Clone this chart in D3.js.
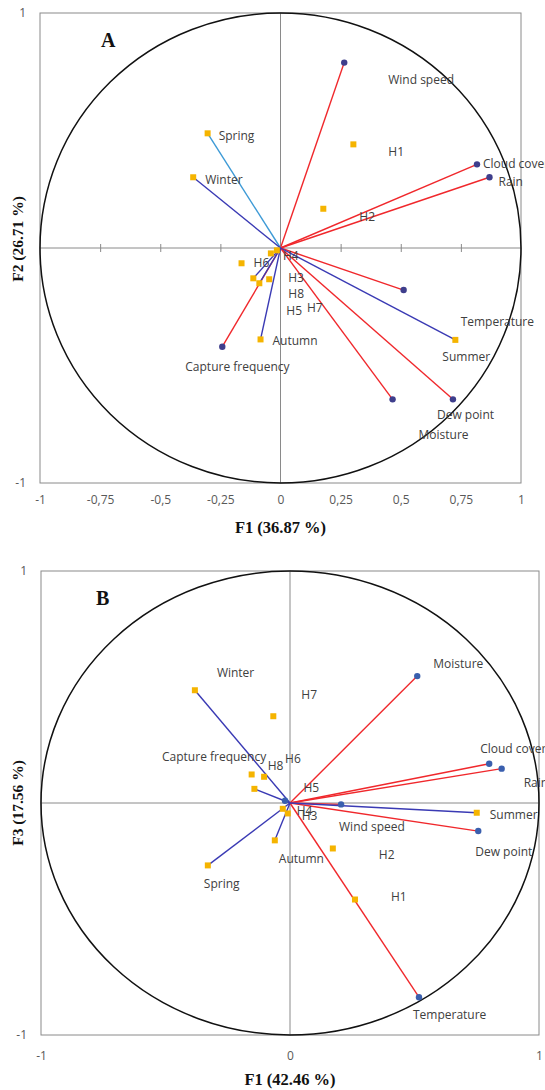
<!DOCTYPE html>
<html>
<head>
<meta charset="utf-8">
<script src="https://cdn.jsdelivr.net/npm/d3@7"></script>
<style>
  body { margin: 0; background: #fff; }
  svg { display: block; }
  .lbl { font-family: "Open Sans", sans-serif; font-size: 12px; fill: #404040; }
  .tick text { font-family: "Open Sans", sans-serif; font-size: 12px; fill: #595959; }
  .ttl { font-family: "Liberation Serif", serif; font-weight: bold; fill: #111; }
</style>
</head>
<body>
<svg id="chart" width="545" height="1090"></svg>
<script>
// DATA -- variables (red vectors, dots)
var varNames = ["Wind speed", "Cloud cover", "Rain", "Temperature", "Dew point", "Moisture", "Capture frequency"];
var varF1A = [0.265, 0.817, 0.869, 0.512, 0.717, 0.466, -0.242];
var varF2A = [0.789, 0.356, 0.301, -0.179, -0.644, -0.644, -0.420];
var varF1B = [0.205, 0.800, 0.850, 0.518, 0.756, 0.511, -0.020];
var varF3B = [-0.006, 0.169, 0.148, -0.837, -0.121, 0.547, 0.010];

// observations / seasons (yellow squares)
var obsNames = ["Spring", "Winter", "Summer", "Autumn", "H1", "H2", "H3", "H4", "H5", "H6", "H7", "H8"];
var obsF1A = [-0.303, -0.363, 0.727, -0.083, 0.303, 0.178, -0.047, -0.040, -0.088, -0.162, -0.015, -0.113];
var obsF2A = [0.488, 0.301, -0.391, -0.389, 0.441, 0.167, -0.133, -0.023, -0.150, -0.065, -0.010, -0.129];
var obsF1B = [-0.330, -0.382, 0.750, -0.061, 0.261, 0.172, -0.009, -0.029, -0.143, -0.104, -0.067, -0.154];
var obsF3B = [-0.269, 0.486, -0.042, -0.161, -0.416, -0.196, -0.045, -0.025, 0.061, 0.113, 0.374, 0.123];

// squares that are joined to the origin
var obsLinesA = ["Spring", "Winter", "Summer", "Autumn", "H5", "H8"];
var obsLinesB = ["Spring", "Winter", "Summer", "Autumn", "H5"];

var xTicksA = [-1, -0.75, -0.5, -0.25, 0, 0.25, 0.5, 0.75, 1];
var xTicksB = [-1, 0, 1];
var yTicks = [-1, 1];

// label offsets in pixels from the mark (text start, vertical middle)
var offA = {
  "Wind speed": [44, 17], "Cloud cover": [6, -1], "Rain": [9, 5], "Temperature": [57, 32],
  "Dew point": [-16, 15], "Moisture": [26, 35], "Capture frequency": [-37, 20],
  "Spring": [11, 2], "Winter": [12, 3], "Summer": [-13, 17], "Autumn": [12, 1],
  "H1": [35, 7], "H2": [36, 8], "H3": [19, -1], "H4": [12, 2], "H5": [27, 28],
  "H6": [12, 0], "H7": [30, 57], "H8": [35, 15]
};
var offB = {
  "Wind speed": [-2, 22], "Cloud cover": [-9, -15], "Rain": [22, 14], "Temperature": [-6, 18],
  "Dew point": [-3, 21], "Moisture": [16, -12], "Capture frequency": [-123, -44],
  "Spring": [-4, 18], "Winter": [22, -17], "Summer": [13, 2], "Autumn": [4, 18],
  "H1": [36, -3], "H2": [46, 6], "H3": [14, 2], "H4": [14, 2], "H5": [49, -1],
  "H6": [21, -18], "H7": [28, -21], "H8": [16, -9]
};

var redLine = "#f0282c";
var blueLine = "#3a3ab4";
var lightBlue = "#3d9ad6";
var yellow = "#f5b400";

var svg = d3.select("#chart");
var loc = d3.formatLocale({decimal: ",", thousands: ".", grouping: [3], currency: ["", ""], minus: "-"});
var fmt = loc.format("");

function panel(opt) {
  var x = d3.scaleLinear().domain([-1, 1]).range([opt.left, opt.right]);
  var y = d3.scaleLinear().domain([-1, 1]).range([opt.bottom, opt.top]);
  var g = svg.append("g");

  // frame
  g.append("rect")
    .attr("x", x(-1)).attr("y", y(1))
    .attr("width", x(1) - x(-1)).attr("height", y(-1) - y(1))
    .attr("fill", "none").attr("stroke", "#8a8a8a").attr("stroke-width", 1);

  // zero lines
  g.append("line").attr("x1", x(-1)).attr("x2", x(1)).attr("y1", y(0)).attr("y2", y(0))
    .attr("stroke", "#8a8a8a").attr("stroke-width", 1);
  g.append("line").attr("x1", x(0)).attr("x2", x(0)).attr("y1", y(1)).attr("y2", y(-1))
    .attr("stroke", "#8a8a8a").attr("stroke-width", 1);

  // small ticks on zero axis
  if (opt.zeroTicks) {
    g.append("g")
      .attr("transform", "translate(0," + (y(0) - 4) + ")")
      .call(d3.axisBottom(x).tickValues(opt.xTicks.filter(function(t) { return Math.abs(t) != 1 && t != 0; }))
        .tickSize(8).tickFormat(""))
      .call(function(a) { a.select(".domain").remove(); a.selectAll("line").attr("stroke", "#8a8a8a"); });
  }

  // correlation circle
  g.append("ellipse")
    .attr("cx", x(0)).attr("cy", y(0))
    .attr("rx", x(1) - x(0)).attr("ry", y(0) - y(1))
    .attr("fill", "none").attr("stroke", "#111").attr("stroke-width", 1.5);

  // tick labels
  g.append("g")
    .attr("transform", "translate(0," + y(-1) + ")")
    .call(d3.axisBottom(x).tickValues(opt.xTicks).tickSize(0).tickPadding(opt.xPad).tickFormat(fmt))
    .call(function(a) { a.select(".domain").remove(); });
  g.append("g")
    .attr("transform", "translate(" + x(-1) + ",0)")
    .call(d3.axisLeft(y).tickValues(yTicks).tickSize(0).tickPadding(14).tickFormat(fmt))
    .call(function(a) { a.select(".domain").remove(); });

  var vars = varNames.map(function(n, i) { return {name: n, f1: opt.vx[i], f2: opt.vy[i]}; });
  var obs = obsNames.map(function(n, i) { return {name: n, f1: opt.ox[i], f2: opt.oy[i]}; });

  // vectors
  g.selectAll(".vline").data(vars).enter().append("line")
    .attr("x1", x(0)).attr("y1", y(0))
    .attr("x2", function(d) { return x(d.f1); }).attr("y2", function(d) { return y(d.f2); })
    .attr("stroke", redLine).attr("stroke-width", 1.4);
  g.selectAll(".oline").data(obs.filter(function(d) { return opt.obsLines.indexOf(d.name) >= 0; }))
    .enter().append("line")
    .attr("x1", x(0)).attr("y1", y(0))
    .attr("x2", function(d) { return x(d.f1); }).attr("y2", function(d) { return y(d.f2); })
    .attr("stroke", function(d) { return (opt.lightSpring && d.name == "Spring") ? lightBlue : blueLine; })
    .attr("stroke-width", 1.4);

  // markers
  g.selectAll(".sq").data(obs).enter().append("rect")
    .attr("x", function(d) { return x(d.f1) - 3; }).attr("y", function(d) { return y(d.f2) - 3; })
    .attr("width", 6).attr("height", 6).attr("fill", yellow);
  g.selectAll(".dot").data(vars).enter().append("circle")
    .attr("cx", function(d) { return x(d.f1); }).attr("cy", function(d) { return y(d.f2); })
    .attr("r", 3.2).attr("fill", opt.dotColor);

  // labels
  g.selectAll(".lbl").data(vars.concat(obs)).enter().append("text")
    .attr("class", "lbl")
    .attr("x", function(d) { return x(d.f1) + opt.off[d.name][0]; })
    .attr("y", function(d) { return y(d.f2) + opt.off[d.name][1]; })
    .attr("dy", "0.35em")
    .text(function(d) { return d.name; });

  // titles
  g.append("text").attr("class", "ttl").attr("font-size", 20)
    .attr("x", opt.letterX).attr("y", y(1) + 34).text(opt.letter);
  g.append("text").attr("class", "ttl").attr("font-size", 16.5)
    .attr("text-anchor", "middle").attr("x", x(0)).attr("y", y(-1) + opt.titleDy)
    .text(opt.xTitle);
  g.append("text").attr("class", "ttl").attr("font-size", 15.5)
    .attr("text-anchor", "middle")
    .attr("transform", "translate(23," + opt.yTitleY + ") rotate(-90)")
    .text(opt.yTitle);
}

panel({
  left: 40, right: 521, top: 13, bottom: 483,
  xTicks: xTicksA, xPad: 12, zeroTicks: true,
  vx: varF1A, vy: varF2A, ox: obsF1A, oy: obsF2A,
  obsLines: obsLinesA, lightSpring: true, dotColor: "#3e3e8c",
  off: offA, letter: "A", letterX: 101, titleDy: 50,
  xTitle: "F1 (36.87 %)", yTitle: "F2 (26.71 %)", yTitleY: 239
});

panel({
  left: 41, right: 539, top: 571, bottom: 1035,
  xTicks: xTicksB, xPad: 16, zeroTicks: false,
  vx: varF1B, vy: varF3B, ox: obsF1B, oy: obsF3B,
  obsLines: obsLinesB, lightSpring: false, dotColor: "#3a5fae",
  off: offB, letter: "B", letterX: 96, titleDy: 50,
  xTitle: "F1 (42.46 %)", yTitle: "F3 (17.56 %)", yTitleY: 803
});
</script>
</body>
</html>
